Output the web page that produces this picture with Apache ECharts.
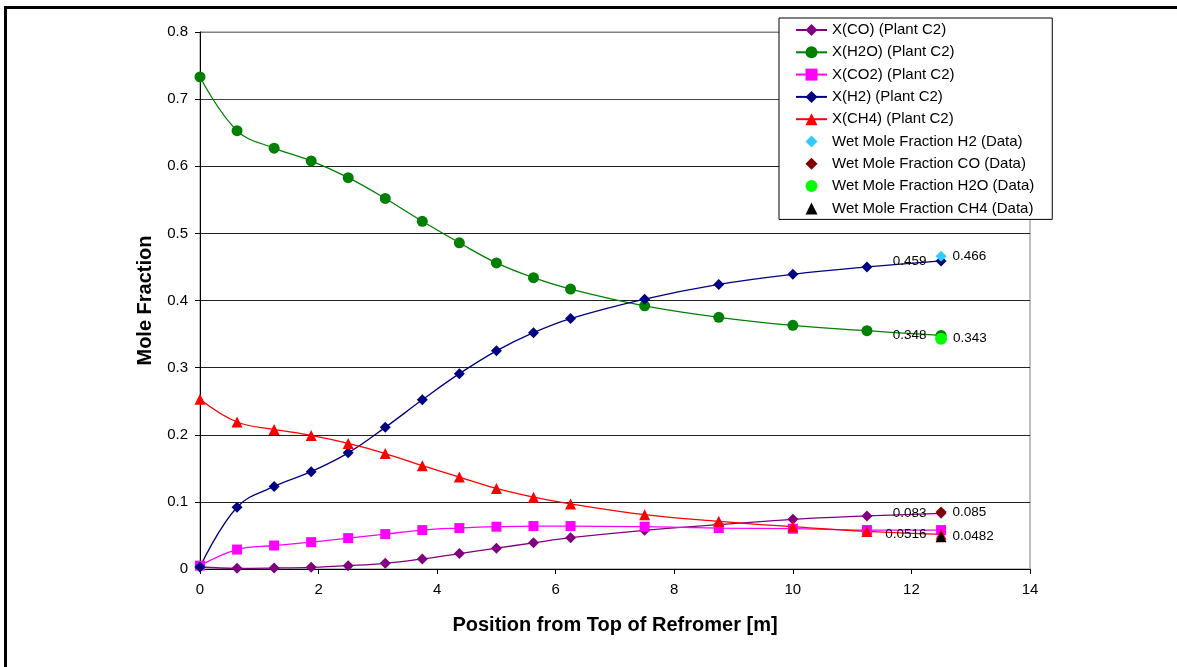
<!DOCTYPE html>
<html>
<head>
<meta charset="utf-8">
<script src="https://cdn.jsdelivr.net/npm/echarts@6/dist/echarts.min.js"></script>
<style>
  html, body { margin: 0; padding: 0; background: #fff; }
  #chart { width: 1177px; height: 667px; }
</style>
</head>
<body>
<div id="chart"></div>
<script>
// Axial positions along the reformer tube [m]
const positions = [0, 0.625, 1.25, 1.875, 2.5, 3.125, 3.75, 4.375, 5, 5.625, 6.25, 7.5, 8.75, 10, 11.25, 12.5];

// Model mole fractions (Plant C2)
const xCO  = [0.003, 0.001, 0.0015, 0.0025, 0.005, 0.0085, 0.015, 0.023, 0.031, 0.039, 0.0466, 0.0576, 0.066, 0.074, 0.079, 0.083];
const xH2O = [0.733, 0.653, 0.627, 0.608, 0.583, 0.552, 0.518, 0.486, 0.456, 0.434, 0.417, 0.392, 0.375, 0.363, 0.355, 0.348];
const xCO2 = [0.005, 0.029, 0.035, 0.040, 0.046, 0.052, 0.058, 0.061, 0.063, 0.064, 0.064, 0.063, 0.061, 0.060, 0.058, 0.058];
const xH2  = [0.003, 0.092, 0.123, 0.145, 0.173, 0.211, 0.252, 0.291, 0.325, 0.352, 0.373, 0.402, 0.424, 0.439, 0.450, 0.459];
const xCH4 = [0.253, 0.219, 0.208, 0.199, 0.187, 0.172, 0.154, 0.137, 0.120, 0.107, 0.097, 0.081, 0.071, 0.063, 0.056, 0.0516];

// Measured wet mole fractions at the reformer outlet
const dataPosition = 12.5;
const wetH2  = 0.466;
const wetCO  = 0.085;
const wetH2O = 0.343;
const wetCH4 = 0.0482;

const FONT = '"Liberation Sans", Arial, sans-serif';

const valueLabel = (pos) => ({
  show: true,
  position: pos,
  distance: pos === 'left' ? 9 : 6,
  color: '#000',
  fontFamily: FONT,
  fontSize: 13.5,
  formatter: p => String(p.value[1])
});

function modelSeries(name, values, color, symbol, size, labelLast) {
  const data = values.map((v, i) => {
    const item = { value: [positions[i], v] };
    if (labelLast && i === values.length - 1) item.label = valueLabel('left');
    return item;
  });
  return {
    name, type: 'line', data,
    smooth: 0.4,
    symbol, symbolSize: size,
    showAllSymbol: true,
    lineStyle: { color, width: 1.3 },
    itemStyle: { color },
    label: { show: false },
    emphasis: { disabled: true },
    animation: false
  };
}

// Single measured point: a line series with an invisible stroke, so the legend shows the marker only
function dataSeries(name, value, color, symbol, size) {
  return {
    name, type: 'line',
    data: [{ value: [dataPosition, value], label: valueLabel('right') }],
    symbol, symbolSize: size,
    showSymbol: true,
    lineStyle: { color, width: 0, opacity: 0 },
    itemStyle: { color },
    emphasis: { disabled: true },
    animation: false
  };
}

const chart = echarts.init(document.getElementById('chart'), null, { renderer: 'canvas' });

chart.setOption({
  backgroundColor: '#fff',
  animation: false,
  textStyle: { fontFamily: FONT },
  graphic: [{
    type: 'rect',
    shape: { x: 5.5, y: 7.5, width: 1300, height: 800 },
    style: { fill: 'none', stroke: '#000', lineWidth: 3 },
    z: -1
  }],
  grid: {
    left: 200, right: 147, top: 32, bottom: 98,
    show: true, borderColor: '#808080', borderWidth: 1, backgroundColor: 'transparent'
  },
  legend: {
    orient: 'vertical',
    left: 779, top: 18,
    backgroundColor: '#fff',
    borderColor: '#000', borderWidth: 1,
    padding: [4.5, 18, 3.5, 16],
    itemWidth: 31, itemHeight: 15, itemGap: 7.3,
    textStyle: { fontFamily: FONT, fontSize: 15, color: '#000', lineHeight: 15 },
    selectedMode: false,
    data: [
      'X(CO) (Plant C2)', 'X(H2O) (Plant C2)', 'X(CO2) (Plant C2)', 'X(H2) (Plant C2)', 'X(CH4) (Plant C2)',
      'Wet Mole Fraction H2 (Data)', 'Wet Mole Fraction CO (Data)', 'Wet Mole Fraction H2O (Data)', 'Wet Mole Fraction CH4 (Data)'
    ]
  },
  xAxis: {
    type: 'value', min: 0, max: 14, interval: 2,
    name: 'Position from Top of Refromer [m]',
    nameLocation: 'middle', nameGap: 46,
    nameTextStyle: { fontFamily: FONT, fontSize: 20, fontWeight: 'bold', color: '#000' },
    axisLine: { show: true, lineStyle: { color: '#000', width: 1 } },
    axisTick: { show: true, inside: false, length: 5, lineStyle: { color: '#000' } },
    axisLabel: { fontFamily: FONT, fontSize: 15, color: '#000', margin: 13 },
    splitLine: { show: false }
  },
  yAxis: {
    type: 'value', min: 0, max: 0.8, interval: 0.1,
    name: 'Mole Fraction',
    nameLocation: 'middle', nameGap: 45,
    nameTextStyle: { fontFamily: FONT, fontSize: 20, fontWeight: 'bold', color: '#000' },
    axisLine: { show: true, lineStyle: { color: '#000', width: 1 } },
    axisTick: { show: true, inside: false, length: 5, lineStyle: { color: '#000' } },
    axisLabel: { fontFamily: FONT, fontSize: 15, color: '#000', margin: 12 },
    splitLine: { show: true, lineStyle: { color: ['#000', '#222', '#222', '#222', '#222', '#222', '#222', '#444', '#808080'], width: 1 } }
  },
  series: [
    modelSeries('X(CO) (Plant C2)',  xCO,  '#800080', 'diamond',  11, true),
    modelSeries('X(H2O) (Plant C2)', xH2O, '#008000', 'circle',   11, true),
    modelSeries('X(CO2) (Plant C2)', xCO2, '#FF00FF', 'rect',     10, false),
    modelSeries('X(H2) (Plant C2)',  xH2,  '#000080', 'diamond',  11, true),
    modelSeries('X(CH4) (Plant C2)', xCH4, '#FF0000', 'triangle', 11, true),
    dataSeries('Wet Mole Fraction H2 (Data)',  wetH2,  '#33CCFF', 'diamond',  11),
    dataSeries('Wet Mole Fraction CO (Data)',  wetCO,  '#800000', 'diamond',  11),
    dataSeries('Wet Mole Fraction H2O (Data)', wetH2O, '#00FF00', 'circle',   12),
    dataSeries('Wet Mole Fraction CH4 (Data)', wetCH4, '#000000', 'triangle', 11)
  ]
});
</script>
</body>
</html>
